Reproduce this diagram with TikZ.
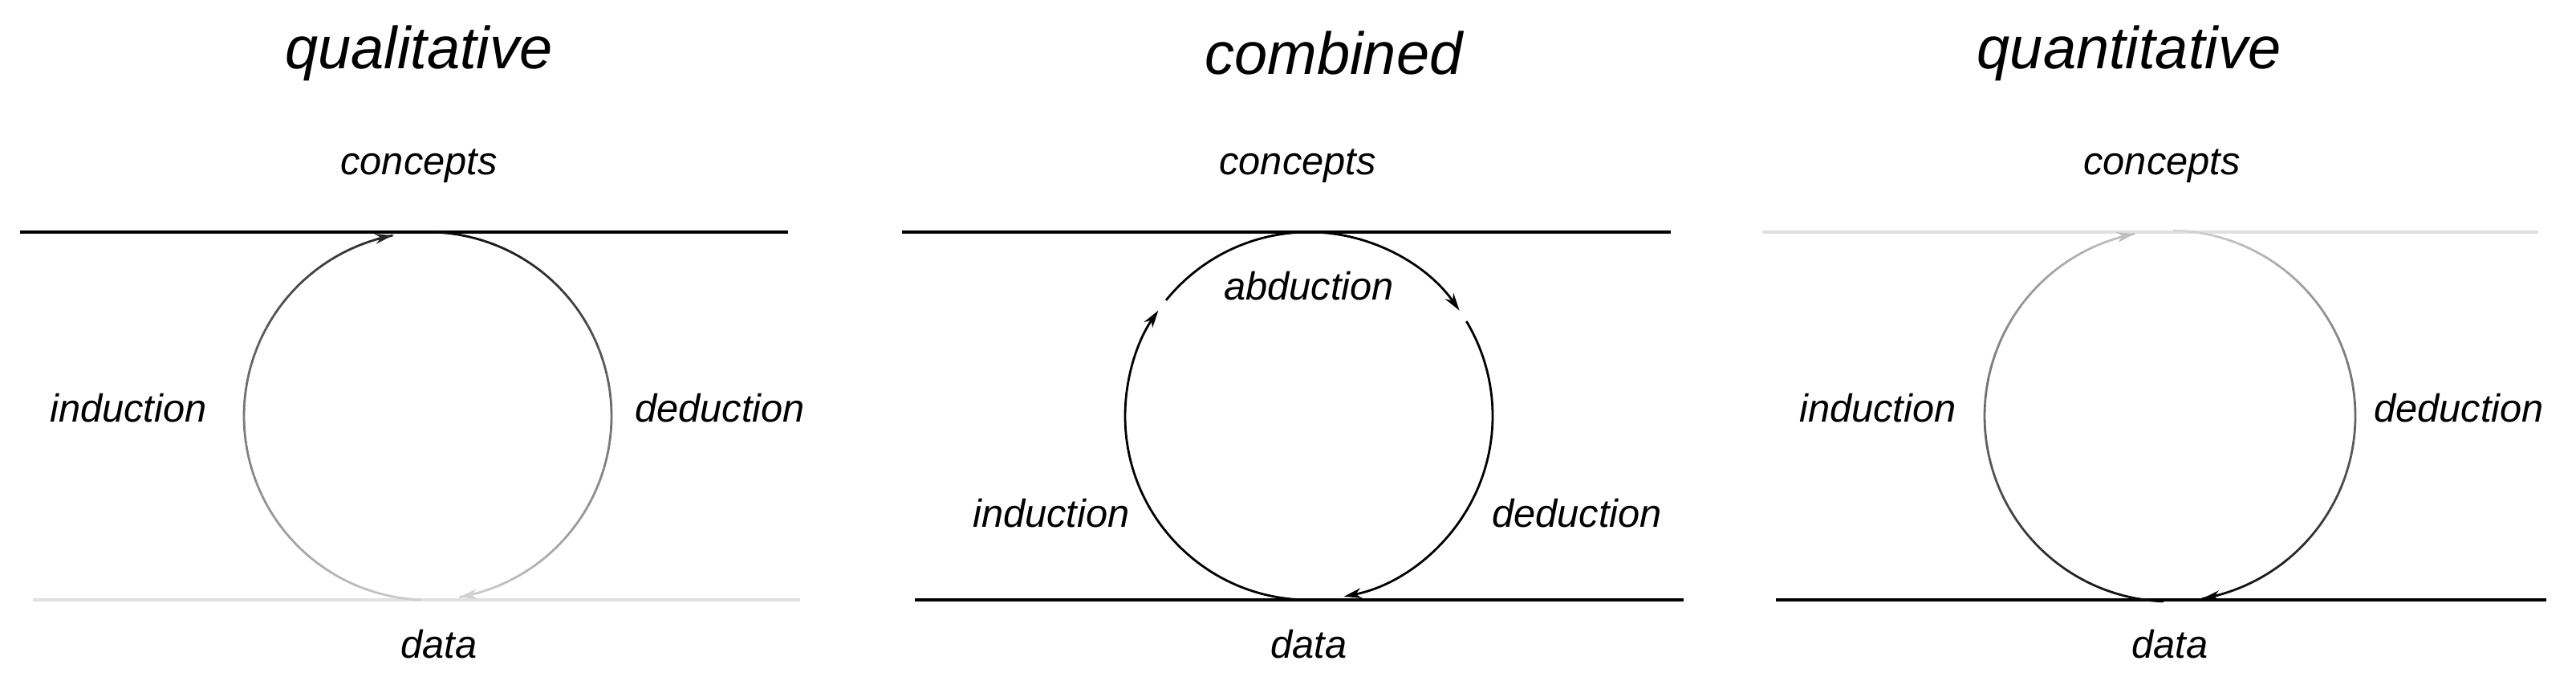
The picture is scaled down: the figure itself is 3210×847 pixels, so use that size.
\documentclass[tikz,border=0pt]{standalone}
\usepackage{fontspec}
\setmainfont{Liberation Sans}
\usetikzlibrary{arrows.meta}
\newcommand\garc[7]{%
 \foreach \i in {1,...,40}{%
  \pgfmathsetmacro\aa{#4+(#5-#4)*(\i-1)/40}%
  \pgfmathsetmacro\ab{#4+(#5-#4)*\i/40}%
  \pgfmathsetmacro\pp{#6+(#7-#6)*(\i-0.5)/40}%
  \draw[arcl,draw=black!\pp] ({#1+#3*cos(\aa)},{#2+#3*sin(\aa)}) arc[start angle=\aa,end angle=\ab,radius=#3];
 }}
\newcommand\garrow[6]{% cx cy r from to pct
  \draw[arcl,draw=black!#6,fill=black!#6,tip] ({#1+#3*cos(#4)},{#2+#3*sin(#4)}) arc[start angle=#4,end angle=#5,radius=#3];}
\begin{document}
\begin{tikzpicture}[x=0.25pt,y=0.25pt,
  lbl/.style={font=\fontsize{12.2pt}{14pt}\itshape\selectfont,inner sep=0pt},
  ttl/.style={font=\fontsize{18.5pt}{22pt}\itshape\selectfont,inner sep=0pt},
  hl/.style={line width=1pt},
  arcl/.style={line width=0.7pt},
  tip/.style={-{Stealth[length=5.5pt,width=3.2pt]}}]
\useasboundingbox (0,0) rectangle (3210,847);
% ---------- qualitative
\node[ttl] (t1) at (522,781) {qualitative};
\node[lbl] (c1) at (522,640) {concepts};
\node[lbl] (d1) at (547,45) {data};
\node[lbl] (i1) at (160,339) {induction};
\node[lbl] (e1) at (897,339) {deduction};
\coordinate (a1l) at (25,558); \coordinate (a1r) at (982,558);
\coordinate (b1l) at (41,100); \coordinate (b1r) at (997,100);
\draw[hl] (a1l) -- (a1r);
\draw[hl,draw=black!12] (b1l) -- (b1r);
\garc{533}{329}{229}{268}{101}{18}{85}
\garrow{533}{329}{229}{106}{101}{85}
\garc{533}{329}{229}{89}{-80}{100}{18}
\garrow{533}{329}{229}{-75}{-80}{18}
% ---------- combined
\node[ttl] (t2) at (1662,781) {combined};
\node[lbl] (c2) at (1617,640) {concepts};
\node[lbl] (d2) at (1631,45) {data};
\node[lbl] (ab2) at (1631,491) {abduction};
\node[lbl] (i2) at (1310,208) {induction};
\node[lbl] (e2) at (1965,208) {deduction};
\coordinate (a2l) at (1124,558); \coordinate (a2r) at (2082,558);
\coordinate (b2l) at (1140,100); \coordinate (b2r) at (2098,100);
\draw[hl] (a2l) -- (a2r);
\draw[hl] (b2l) -- (b2r);
\draw[arcl,tip] ({1631+229*cos(268)},{329+229*sin(268)}) arc[start angle=268,end angle=145,radius=229];
\draw[arcl,tip] ({1631+229*cos(141)},{329+229*sin(141)}) arc[start angle=141,end angle=35,radius=229];
\draw[arcl,tip] ({1631+229*cos(31)},{329+229*sin(31)}) arc[start angle=31,end angle=-79,radius=229];
% ---------- quantitative
\node[ttl] (t3) at (2653,781) {quantitative};
\node[lbl] (c3) at (2694,640) {concepts};
\node[lbl] (d3) at (2704,45) {data};
\node[lbl] (i3) at (2340,339) {induction};
\node[lbl] (e3) at (3064,339) {deduction};
\coordinate (a3l) at (2196,558); \coordinate (a3r) at (3163,558);
\coordinate (b3l) at (2213,100); \coordinate (b3r) at (3173,100);
\draw[hl,draw=black!12] (a3l) -- (a3r);
\draw[hl] (b3l) -- (b3r);
\garc{2704}{329}{231}{268}{101}{100}{22}
\garrow{2704}{329}{231}{106}{101}{25}
\garc{2704}{329}{231}{89}{-80}{15}{100}
\garrow{2704}{329}{231}{-75}{-80}{100}
\end{tikzpicture}
\end{document}
